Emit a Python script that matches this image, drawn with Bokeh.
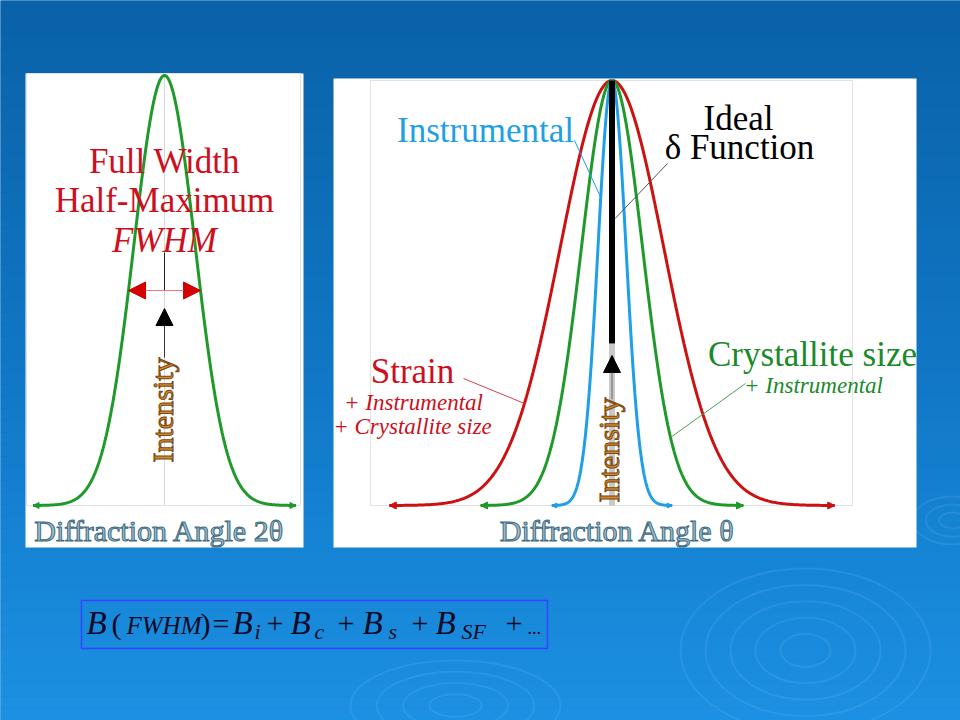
import numpy as np
from bokeh.plotting import figure
from bokeh.models import Range1d, Arrow, NormalHead
from bokeh.core.properties import value
from bokeh.embed import file_html
from bokeh.resources import INLINE

# ---------------- data ----------------
# left panel: one diffraction peak (angle 2θ, arbitrary units centred on the peak)
left_peak_center = [0.0]
left_peak_fwhm = [0.72]
left_peak_height = [1.0]

# right panel: broadened profiles (angle θ)
right_names = ["Strain", "Crystallite size", "Instrumental"]
right_fwhm = [1.22, 0.72, 0.33]
right_center = [0.0, 0.0, 0.0]
right_height = [1.0, 1.0, 1.0]
delta_center = [0.0]          # ideal δ function
delta_height = [1.0]
tail_sigmas = 4.3             # how far each drawn profile extends (in σ)

formula_pieces = ["B", "(", "FWHM", ")", "=", "B", "i", "+", "B", "c", "+", "B", "s", "+", "B", "SF", "+", "..."]

# ---------------- layout (reference pixel frame) ----------------
W0, W1, H0, H1 = 0, 960, 0, 720
L_cx, L_base, L_peak = 164.0, 505.0, 75.0
R_cx, R_base, R_peak = 611.5, 505.0, 80.0
PPU = 100.0  # pixels per angle unit
BASE_SHIFT = 0.3  # em offset between requested and rendered baseline

RED, GREEN, BLUE = "#cc1111", "#1f9a2a", "#1e9fe6"
SERIF = value("Liberation Serif")

p = figure(width=W1 - W0, height=H1 - H0, x_range=Range1d(W0, W1), y_range=Range1d(H1, H0),
           output_backend="svg", toolbar_location=None, min_border=0,
           x_axis_location=None, y_axis_location=None)
p.grid.visible = False
p.outline_line_color = None
p.background_fill_color = "#0c6ab2"
p.border_fill_color = "#0c6ab2"

def xr(cx):
    return Range1d((W0 - cx) / PPU, (W1 - cx) / PPU)

def yr(base, peak):
    s = base - peak
    return Range1d((base - H1) / s, (base - H0) / s)

p.extra_x_ranges = {"L": xr(L_cx), "R": xr(R_cx)}
p.extra_y_ranges = {"L": yr(L_base, L_peak), "R": yr(R_base, R_peak)}

# ---------------- slide background ----------------
stops = [(0.0, (10, 98, 168)), (0.5, (16, 118, 196)), (1.0, (28, 144, 226))]
def grad(t):
    for (t0, c0), (t1, c1) in zip(stops[:-1], stops[1:]):
        if t <= t1:
            f = (t - t0) / (t1 - t0)
            return "#%02x%02x%02x" % tuple(int(round(a + (b - a) * f)) for a, b in zip(c0, c1))
    return "#%02x%02x%02x" % stops[-1][1]
nb = 60
edges = np.linspace(H0, H1, nb + 1)
p.quad(left=W0, right=W1, top=edges[:-1], bottom=edges[1:],
       color=[grad(i / (nb - 1)) for i in range(nb)], line_width=0.5)

# ripples
for cx, cy, rx, ry, n in [(805, 650, 125, 82, 5), (455, 705, 105, 45, 4), (952, 520, 40, 24, 3)]:
    for k in range(1, n + 1):
        p.ellipse(x=cx, y=cy, width=2 * rx * k / n, height=2 * ry * k / n,
                  fill_color=None, line_color="#8fd0ff", line_alpha=0.14, line_width=2)

# panels
p.quad(left=25, right=303, top=73, bottom=547, fill_color="white", line_color=None)
p.quad(left=333, right=916, top=78, bottom=547, fill_color="white", line_color=None)
# faint plot frames
p.quad(left=26, right=300, top=73, bottom=505, fill_color=None, line_color="#e2e2e2", line_width=1)
p.quad(left=370, right=852, top=80, bottom=505, fill_color=None, line_color="#e2e2e2", line_width=1)

def gauss(c, fwhm, h):
    s = fwhm / 2.3548
    x = np.linspace(c - tail_sigmas * s, c + tail_sigmas * s, 400)
    return x, h * np.exp(-0.5 * ((x - c) / s) ** 2), s

def tail_arrows(xs, color, rng, size=7):
    for xe, d in [(xs[0], -1), (xs[-1], 1)]:
        p.add_layout(Arrow(end=NormalHead(size=size, fill_color=color, line_color=color),
                           x_start=xe - 0.03 * d, y_start=0, x_end=xe, y_end=0,
                           line_color=color, line_width=2, x_range_name=rng, y_range_name=rng))

# ---------------- left panel ----------------
p.segment(x0=left_peak_center, y0=0, x1=left_peak_center, y1=left_peak_height,
          line_color="#d9d9d9", line_width=1, x_range_name="L", y_range_name="L")
for c, f, h in zip(left_peak_center, left_peak_fwhm, left_peak_height):
    x, y, s = gauss(c, f, h)
    p.line(x, y, line_color=GREEN, line_width=3, x_range_name="L", y_range_name="L")
    tail_arrows(x, GREEN, "L", size=6)
    # FWHM double arrow at half maximum
    p.add_layout(Arrow(start=NormalHead(size=17, fill_color="#d40000", line_color="#d40000"),
                       end=NormalHead(size=17, fill_color="#d40000", line_color="#d40000"),
                       x_start=c - f / 2, y_start=h / 2, x_end=c + f / 2, y_end=h / 2,
                       line_color="#e87a86", line_width=1.2, x_range_name="L", y_range_name="L"))
    p.segment(x0=c, y0=0.588, x1=c, y1=h / 2, line_color="#222222", line_width=1,
              x_range_name="L", y_range_name="L")
    p.add_layout(Arrow(end=NormalHead(size=17, fill_color="black", line_color="black"),
                       x_start=c, y_start=0.344, x_end=c, y_end=0.458,
                       line_color="#333333", line_width=1, x_range_name="L", y_range_name="L"))

def txt(x, y, t, color, size, style="normal", align="center", angle=0.0, outline=None):
    if angle == 0.0:
        y = y - BASE_SHIFT * size
    else:
        x = x - BASE_SHIFT * size
    kw = dict(text=[t], text_color=color, text_font=SERIF, text_font_size=f"{size}px",
              text_font_style=style, text_align=align, text_baseline="alphabetic", angle=angle)
    if outline:
        try:
            p.text(x=[x], y=[y], text_outline_color=outline, **kw)
            return
        except Exception:
            pass
    p.text(x=[x], y=[y], **kw)

txt(164, 171, "Full Width", "#cc1020", 35)
txt(164, 210, "Half-Maximum", "#cc1020", 35)
txt(164, 250, "FWHM", "#cc1020", 35, style="italic")
txt(171, 462, "Intensity", "#d48a2c", 30, align="left", angle=np.pi / 2, outline="#7a4810")
txt(159, 539, "Diffraction Angle 2θ", "#9cbfd2", 30, outline="#3f6a80")

# ---------------- right panel ----------------
p.segment(x0=delta_center, y0=0, x1=delta_center, y1=0.381, line_color="#c9c9c9", line_width=6,
          x_range_name="R", y_range_name="R")
colors = [RED, GREEN, BLUE]
curves = {}
for name, c, f, h, col in zip(right_names, right_center, right_fwhm, right_height, colors):
    x, y, s = gauss(c, f, h)
    curves[name] = (c, s, h)
    p.line(x, y, line_color=col, line_width=3, x_range_name="R", y_range_name="R")
    tail_arrows(x, col, "R", size=7 if name != "Instrumental" else 5)
p.segment(x0=delta_center, y0=delta_height, x1=delta_center, y1=0.381, line_color="black",
          line_width=6, x_range_name="R", y_range_name="R")
p.add_layout(Arrow(end=NormalHead(size=17, fill_color="black", line_color="black"),
                   x_start=delta_center[0], y_start=0.25, x_end=delta_center[0], y_end=0.353,
                   line_color="#666666", line_width=1, x_range_name="R", y_range_name="R"))

def on_curve(name, level, side):
    c, s, h = curves[name]
    dx = s * np.sqrt(2 * np.log(h / level))
    return R_cx + PPU * (c + side * dx), R_base - (R_base - R_peak) * level

# leader lines (from label to curve)
lx, ly = on_curve("Instrumental", 0.725, -1)
p.segment(x0=574, y0=140, x1=lx, y1=ly, line_color=BLUE, line_width=1)
p.segment(x0=667, y0=163, x1=R_cx + PPU * delta_center[0] + 3, y1=R_base - (R_base - R_peak) * 0.675,
          line_color="#555555", line_width=1)
lx, ly = on_curve("Strain", 0.24, -1)
p.segment(x0=463, y0=378, x1=lx, y1=ly, line_color="#d84050", line_width=1)
lx, ly = on_curve("Crystallite size", 0.16, 1)
p.segment(x0=745, y0=383, x1=lx, y1=ly, line_color="#4aa052", line_width=1)

txt(485, 140, "Instrumental", BLUE, 35)
txt(738, 128, "Ideal", "black", 35)
txt(739, 157, "δ Function", "black", 35)
txt(412, 381, "Strain", "#cc1020", 35)
txt(413, 409, "+ Instrumental", "#cc1020", 23, style="italic")
txt(412, 433, "+ Crystallite size", "#cc1020", 23, style="italic")
txt(812, 364, "Crystallite size", "#1a8a2a", 35)
txt(813, 392, "+ Instrumental", "#1a8a2a", 23, style="italic")
txt(617, 502, "Intensity", "#d48a2c", 30, align="left", angle=np.pi / 2, outline="#7a4810")
txt(617, 539, "Diffraction Angle θ", "#9cbfd2", 30, outline="#3f6a80")

# ---------------- formula box ----------------
p.quad(left=81, right=547, top=600, bottom=648, fill_color=None, line_color="#3344ff", line_width=1.5)
fx = [86, 111, 126, 200, 212, 232, 254, 266, 290, 314, 337, 362, 388, 411, 435, 461, 505, 527]
fy = [632, 632, 632, 632, 632, 632, 638, 632, 632, 638, 632, 632, 638, 632, 632, 638, 632, 632]
fs = [33, 30, 25, 30, 30, 33, 22, 30, 33, 22, 30, 33, 22, 30, 33, 22, 30, 18]
fst = ["italic", "normal", "italic", "normal", "normal", "italic", "italic", "normal", "italic", "italic",
       "normal", "italic", "italic", "normal", "italic", "italic", "normal", "normal"]
for t, x, y, s, st in zip(formula_pieces, fx, fy, fs, fst):
    txt(x, y, t, "#0a0a26", s, style=st, align="left")

open("out.html", "w").write(file_html(p, INLINE))
